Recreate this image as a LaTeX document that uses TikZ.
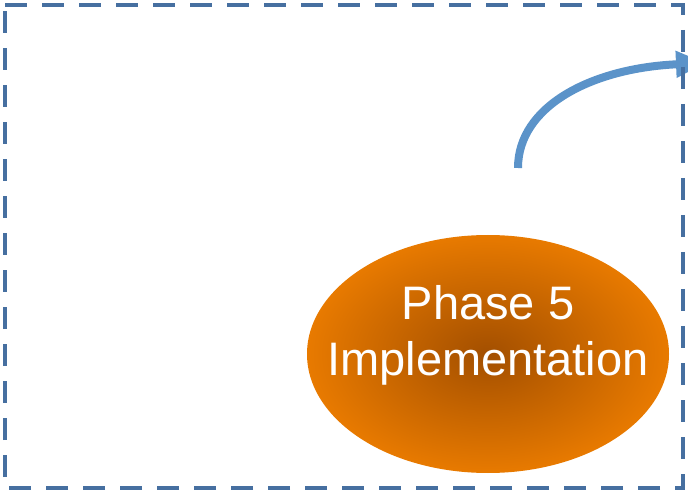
\documentclass[tikz,border=0pt]{standalone}
\usepackage{fontspec}
\setmainfont{Liberation Sans}
\usepackage{tikz}
\usetikzlibrary{shapes.geometric}
\usetikzlibrary{arrows.meta}

\definecolor{frameblue}{HTML}{466FA0}
\definecolor{arrowblue}{HTML}{5B93C9}
\definecolor{phasedark}{HTML}{A34F00}
\definecolor{phaseorange}{HTML}{E87A00}
\pgfdeclareradialshading{phaseshade}{\pgfpoint{0bp}{0bp}}{color(0bp)=(phasedark); color(25bp)=(phaseorange); color(100bp)=(phaseorange)}

\tikzset{
  phase/.style={ellipse,inner sep=0pt,minimum width=362pt,minimum height=238pt,shading=phaseshade},
  phasetext/.style={align=center,text=white,inner sep=0pt,font=\fontsize{47}{56}\selectfont},
  frameline/.style={draw=frameblue,line width=4pt,dash pattern=on 22pt off 15pt},
  flow/.style={draw=arrowblue,line width=8pt,-{Triangle[length=30pt,width=25pt]}}
}

\begin{document}
\begin{tikzpicture}[x=1pt,y=-1pt]
\useasboundingbox (0,0) rectangle (688,494);
\node [phase] (impl) at (488,354) {};
\node [phasetext] (impltext) at ([yshift=19pt]impl.center) {Phase 5\\Implementation};
\coordinate (flowstart) at (518,168);
\coordinate (flowend) at (706,63);
\draw [flow] (flowstart) .. controls (518,106) and (592,68) .. (flowend);
\draw [frameline] (5,5) -- (683,5) -- (683,488) -- (5,488) -- cycle;
\end{tikzpicture}
\end{document}
